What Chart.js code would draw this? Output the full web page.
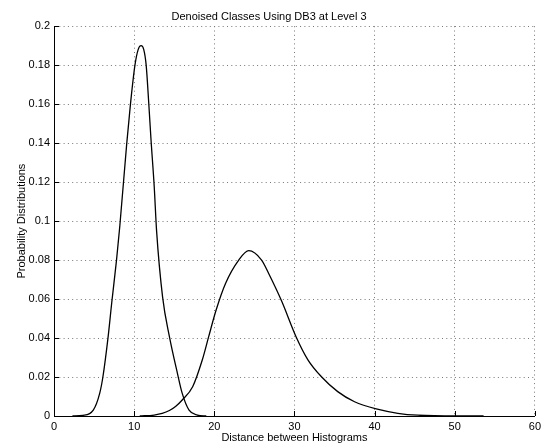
<!DOCTYPE html>
<html>
<head>
<meta charset="utf-8">
<script src="https://cdn.jsdelivr.net/npm/chart.js@4/dist/chart.umd.min.js"></script>
<style>
  body { margin: 0; background: #fff; }
  #wrap { width: 545px; height: 445px; }
</style>
</head>
<body>
<div id="wrap"><canvas id="chart" width="545" height="445"></canvas></div>
<script>
// curve 1 (narrow peak near 11)
const x1 = [2.3, 3.6, 4.9, 5.7, 6.1, 6.73, 7.2, 7.8, 8.2, 9.08, 9.54, 10.1, 10.5, 10.86, 11.2, 11.5, 11.8, 12.1, 12.5, 12.8, 13.55, 14.4, 15.4, 16.0, 16.85, 17.9, 19];
const y1 = [0, 0.0003, 0.003, 0.0116, 0.020, 0.0398, 0.058, 0.080, 0.097, 0.14, 0.16, 0.18, 0.188, 0.190, 0.188, 0.18, 0.162, 0.142, 0.118, 0.095, 0.061, 0.0407, 0.0219, 0.0116, 0.003, 0.0005, 0];

// curve 2 (wide peak near 24)
const x2 = [10.7, 12.5, 13.5, 14.4, 15.2, 16.0, 17.3, 18.5, 19.3, 20.2, 21.4, 23.05, 24.3, 25.9, 26.8, 28.4, 30.2, 31.7, 33.4, 35.4, 37.5, 40.2, 42.9, 45.4, 50.3, 53.6];
const y2 = [0, 0.0005, 0.0013, 0.0028, 0.005, 0.0082, 0.015, 0.0287, 0.0407, 0.054, 0.068, 0.080, 0.0848, 0.080, 0.073, 0.059, 0.0407, 0.0287, 0.020, 0.0125, 0.0073, 0.0036, 0.0014, 0.0004, 0, 0];

const xTicks = [0, 10, 20, 30, 40, 50, 60];
const yTicks = [0, 0.02, 0.04, 0.06, 0.08, 0.1, 0.12, 0.14, 0.16, 0.18, 0.2];
const yTickLabels = ['0', '0.02', '0.04', '0.06', '0.08', '0.1', '0.12', '0.14', '0.16', '0.18', '0.2'];

const font = 'Liberation Sans, Arial, sans-serif';

function toPoints(xs, ys) {
    return xs.map((x, i) => ({ x: x, y: ys[i] }));
}

// small inward tick marks on the left and bottom axes
const innerTicks = {
    id: 'innerTicks',
    afterDraw(chart) {
        const ctx = chart.ctx;
        const xs = chart.scales.x, ys = chart.scales.y;
        const area = chart.chartArea;
        ctx.save();
        ctx.strokeStyle = '#000';
        ctx.lineWidth = 1;
        ctx.beginPath();
        xTicks.forEach(v => {
            const px = Math.round(xs.getPixelForValue(v)) + 0.5;
            ctx.moveTo(px, area.bottom);
            ctx.lineTo(px, area.bottom - 5);
        });
        yTicks.forEach(v => {
            const py = Math.round(ys.getPixelForValue(v)) + 0.5;
            ctx.moveTo(area.left, py);
            ctx.lineTo(area.left + 5, py);
        });
        ctx.stroke();
        ctx.restore();
    }
};

new Chart(document.getElementById('chart'), {
    type: 'line',
    data: {
        datasets: [
            {
                data: toPoints(x1, y1),
                borderColor: '#000',
                borderWidth: 1.3,
                pointRadius: 0,
                cubicInterpolationMode: 'monotone',
                fill: false
            },
            {
                data: toPoints(x2, y2),
                borderColor: '#000',
                borderWidth: 1.3,
                pointRadius: 0,
                cubicInterpolationMode: 'monotone',
                fill: false
            }
        ]
    },
    options: {
        responsive: false,
        animation: false,
        layout: { padding: { left: 0, right: 7, top: 0, bottom: 0 } },
        plugins: {
            legend: { display: false },
            tooltip: { enabled: false },
            title: {
                display: true,
                text: 'Denoised Classes Using DB3 at Level 3',
                color: '#000',
                font: { family: font, size: 11, weight: 'normal' },
                padding: { top: 10, bottom: 3 }
            }
        },
        scales: {
            x: {
                type: 'linear',
                min: 0,
                max: 60,
                afterBuildTicks: s => { s.ticks = xTicks.map(v => ({ value: v })); },
                afterFit: s => { s.height = 29; },
                ticks: {
                    color: '#000',
                    font: { family: font, size: 11 },
                    padding: 4,
                    maxRotation: 0
                },
                grid: {
                    color: '#777',
                    drawTicks: false
                },
                border: { display: true, color: '#000', width: 1, dash: [1, 3.3] },
                title: {
                    display: true,
                    text: 'Distance between Histograms',
                    color: '#000',
                    font: { family: font, size: 11 },
                    padding: { top: 0, bottom: 0 }
                }
            },
            y: {
                type: 'linear',
                min: 0,
                max: 0.2,
                afterBuildTicks: s => { s.ticks = yTicks.map(v => ({ value: v })); },
                afterFit: s => { s.width = 54; },
                ticks: {
                    color: '#000',
                    font: { family: font, size: 11 },
                    padding: 4,
                    callback: (v) => yTickLabels[yTicks.findIndex(t => Math.abs(t - v) < 1e-9)]
                },
                grid: {
                    color: '#777',
                    drawTicks: false
                },
                border: { display: true, color: '#000', width: 1, dash: [1, 3.3] },
                title: {
                    display: true,
                    text: 'Probability Distributions',
                    color: '#000',
                    font: { family: font, size: 11 },
                    padding: { top: 15.5, bottom: 0 }
                }
            }
        }
    },
    plugins: [innerTicks]
});
</script>
</body>
</html>
